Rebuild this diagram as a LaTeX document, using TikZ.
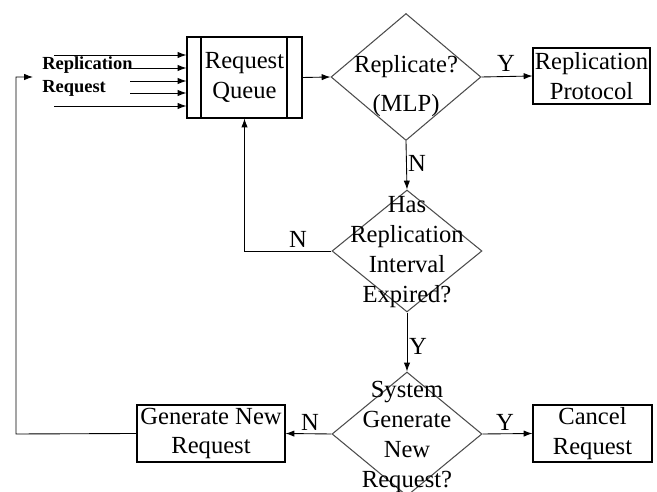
\documentclass[tikz,border=0pt]{standalone}
\usepackage{fontspec}
\setmainfont{Liberation Serif}
\usetikzlibrary{shapes.geometric,arrows.meta}
\tikzset{
	arr/.style={-{Latex[length=5pt,width=3.6pt]}, line width=0.5pt},
	box/.style={draw, line width=0.6pt, align=center, inner sep=0pt, font=\fontsize{14}{17}\selectfont},
	dia/.style={draw=black!70, line width=0.6pt, diamond, inner sep=0pt, minimum width=3cm, minimum height=2.5cm},
	txt/.style={align=center, inner sep=0pt, font=\fontsize{14}{17}\selectfont},
	small/.style={inner sep=0pt, anchor=west, font=\fontsize{10.5}{12}\selectfont\bfseries}
}

\begin{document}
\begin{tikzpicture}[x=0.02cm, y=-0.02cm]
			%%%%% START %%%%%
			\useasboundingbox (0, 0) rectangle (657, 492);
			
			\node[box, minimum width=2.3cm, minimum height=1.62cm] (queue) at (244.5, 77.5) {};
			\draw[line width=0.6pt] (201, 37) -- (201, 118);
			\draw[line width=0.6pt] (287, 37) -- (287, 118);
			\node[txt] (queuetxt) at (244.5, 77.5) {Request\\Queue};
			
			\node[box, minimum width=2.34cm, minimum height=1.12cm] (proto) at (591.5, 76) {Replication\\Protocol};
			\node[box, minimum width=2.96cm, minimum height=1.14cm] (gen) at (211, 433.5) {Generate New\\Request};
			\node[box, minimum width=2.38cm, minimum height=1.14cm] (cancel) at (592.5, 433.5) {Cancel\\Request};
			
			\node[dia, minimum height=2.54cm] (repl) at (406, 77) {};
			\node[txt] (repltxt) at (406, 86) {Replicate?\\[5pt](MLP)};
			
			\node[dia, minimum height=2.44cm] (expired) at (407, 251) {};
			\node[txt] (expiredtxt) at (407, 252) {Has\\Replication\\Interval\\Expired?};
			
			\node[dia, minimum height=2.48cm] (sysgen) at (407, 434) {};
			\node[txt] (sysgentxt) at (407, 437) {System\\Generate\\New\\Request?};
			
			% incoming requests
			\node[small] (lblrepl) at (42, 65) {Replication};
			\node[small] (lblreq) at (42, 88) {Request};
			\foreach \y/\x in {55/54, 68/130, 81/130, 93/130, 106/54}
				\draw[arr] (\x, \y) -- (\x, \y -| queue.west);
			
			% main flow
			\draw[arr] (queue.east) -- (repl.west);
			\draw[arr] (repl.east) -- (proto.west);
			\node[txt] (ylab1) at (506, 63) {Y};
			\draw[arr] (repl.south) -- (expired.north);
			\node[txt] (nlab1) at (417, 163) {N};
			\draw[arr] (expired.west) -| (queue.south);
			\node[txt] (nlab2) at (298, 239) {N};
			\draw[arr] (expired.south) -- (sysgen.north);
			\node[txt] (ylab2) at (418, 346) {Y};
			\draw[arr] (sysgen.east) -- (cancel.west);
			\node[txt] (ylab3) at (505, 422) {Y};
			\draw[arr] (sysgen.west) -- (gen.east);
			\node[txt] (nlab3) at (310, 422) {N};
			
			% back to the queue
			\coordinate (loopcorner) at (16, 434);
			\coordinate (loopend) at (33, 77);
			\draw[arr] (gen.west) -- (loopcorner) |- (loopend);
			%%%%% END %%%%%
\end{tikzpicture}
\end{document}
